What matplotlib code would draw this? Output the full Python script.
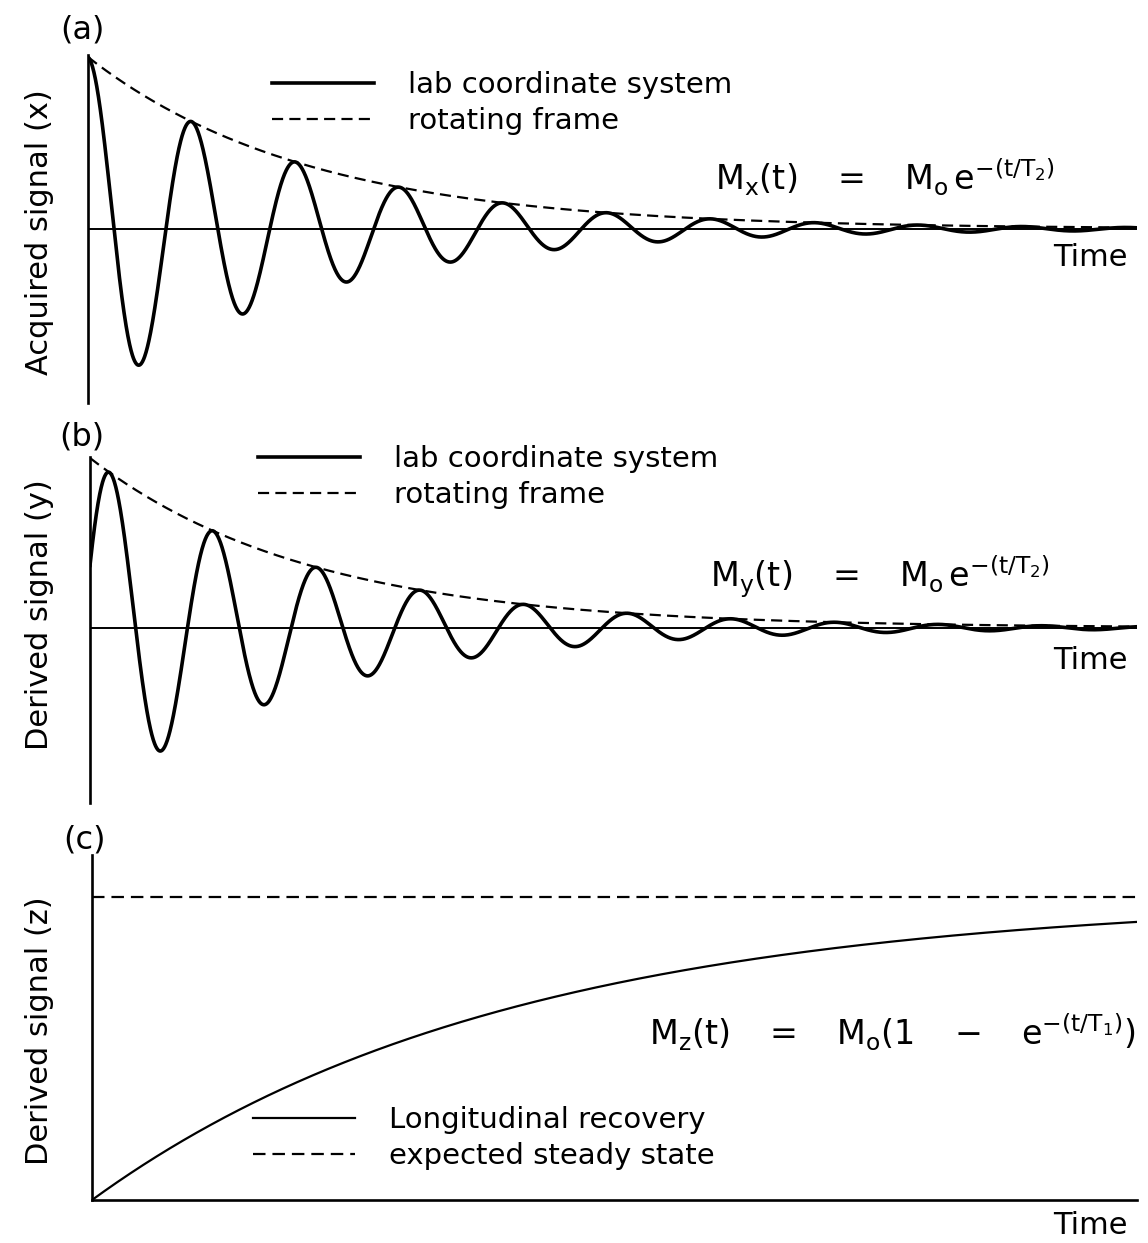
import numpy as np
import matplotlib
matplotlib.use("Agg")
import matplotlib.pyplot as plt

plt.rcParams['font.family'] = ['DejaVu Sans']
plt.rcParams['mathtext.fontset'] = 'dejavusans'
plt.rcParams['lines.scale_dashes'] = False

# values (time in units of one oscillation period)
M0 = 1.0
T2 = 2.12          # transverse decay constant
T1 = 4.02          # longitudinal recovery constant
period = 1.0
phase_b = 0.06     # panel (b) curve starts slightly after a zero crossing
t_end = 10.1

panel_tags = ['(a)', '(b)', '(c)']
ylabels = ['Acquired signal (x)', 'Derived signal (y)', 'Derived signal (z)']
legend_ab = ['lab coordinate system', 'rotating frame']
legend_c = ['Longitudinal recovery', 'expected steady state']
formulas = [r'$\mathregular{M_x(t)\quad=\quad M_o\,e^{-(t/T_2)}}$',
            r'$\mathregular{M_y(t)\quad=\quad M_o\,e^{-(t/T_2)}}$',
            r'$\mathregular{M_z(t)\quad=\quad M_o(1\quad-\quad e^{-(t/T_1)})}$']

t = np.linspace(0, t_end, 3000)
env = M0 * np.exp(-t / T2)
mx = env * np.cos(2 * np.pi * t / period)
my = env * np.sin(2 * np.pi * (t + phase_b) / period)
mz = M0 * (1 - np.exp(-t / T1))

W, H = 1148, 1243
fig = plt.figure(figsize=(W / 100, H / 100), dpi=100)


def rect(left, top, right, bottom):
    return [left / W, 1 - bottom / H, (right - left) / W, (bottom - top) / H]


def fx(px):
    return px / W


def fy(py):
    return 1 - py / H


ax_a = fig.add_axes(rect(88, 55, 1137, 403))
ax_b = fig.add_axes(rect(90, 457, 1137, 803))
ax_c = fig.add_axes(rect(92, 855, 1137, 1200))

for ax in (ax_a, ax_b, ax_c):
    ax.set_xlim(0, t_end)
    ax.set_xticks([])
    ax.set_yticks([])
    for s in ['top', 'right', 'bottom']:
        ax.spines[s].set_visible(False)
    ax.spines['left'].set_linewidth(1.9)
    ax.patch.set_alpha(0)

ax_a.set_ylim(-1.012, 1.012)
ax_b.set_ylim(-1.03, 1.006)
ax_c.set_ylim(0, 1.14)

dash = (8, 4.5)
for ax, sig in ((ax_a, mx), (ax_b, my)):
    ax.axhline(0, color='k', lw=1.4)
    ax.plot(t, sig, color='k', lw=2.6, label=legend_ab[0])
    ax.plot(t, env, color='k', lw=1.6, dashes=dash, label=legend_ab[1])

ax_c.spines['bottom'].set_visible(True)
ax_c.spines['bottom'].set_linewidth(1.9)
ax_c.plot(t, mz, color='k', lw=1.6, label=legend_c[0])
ax_c.axhline(M0, color='k', lw=1.6, dashes=(9, 5), label=legend_c[1])

leg_kw = dict(loc='upper left', bbox_transform=fig.transFigure, frameon=False,
              borderpad=0, borderaxespad=0, handlelength=3.5,
              handletextpad=1.15, labelspacing=0.28, fontsize=21)
ax_a.legend(bbox_to_anchor=(fx(272), fy(71)), **leg_kw)
ax_b.legend(bbox_to_anchor=(fx(258), fy(445)), **leg_kw)
ax_c.legend(bbox_to_anchor=(fx(253), fy(1106)), **leg_kw)

for tag, (x, y) in zip(panel_tags, [(82, 30), (82, 437), (85, 840)]):
    fig.text(fx(x), fy(y), tag, ha='center', va='center', fontsize=23)

for lab, y in zip(ylabels, [232, 615, 1031]):
    fig.text(fx(40), fy(y), lab, rotation=90, ha='center', va='center', fontsize=22)

for f, (x, y) in zip(formulas, [(1055, 190), (1050, 587), (1135, 1045)]):
    fig.text(fx(x), fy(y), f, ha='right', va='baseline', fontsize=24)

for y in [258, 660, 1225]:
    fig.text(fx(1128), fy(y), 'Time', ha='right', va='center', fontsize=22)

plt.savefig("out.png", dpi=100)
